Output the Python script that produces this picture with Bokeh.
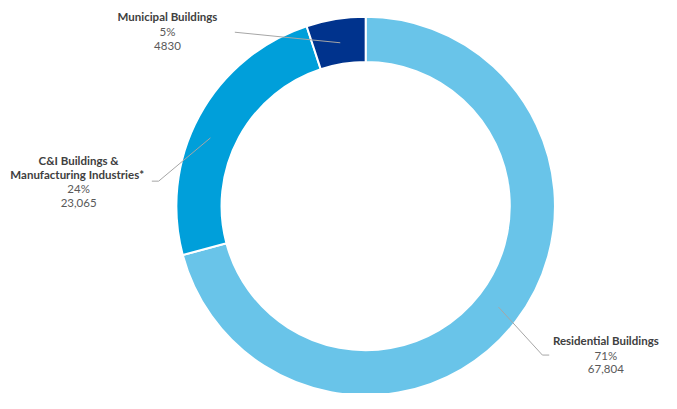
import math
from bokeh.plotting import figure
from bokeh.models import Range1d, ColumnDataSource
from bokeh.core.properties import value
from bokeh.embed import file_html
from bokeh.resources import INLINE

categories = ["Residential Buildings", "C&I Buildings & Manufacturing Industries*", "Municipal Buildings"]
values = [67804, 23065, 4830]
percent_labels = ["71%", "24%", "5%"]
value_labels = ["67,804", "23,065", "4830"]
colors = ["#69C4E9", "#009FDA", "#00338D"]

W, H = 677, 409
FW, FH = 661, 393
SY = FH / H

def Y(py):
    return H - py

p = figure(width=FW, height=FH, output_backend="svg", toolbar_location=None,
           x_range=Range1d(0, W), y_range=Range1d(0, H), min_border=0,
           outline_line_color=None)
p.axis.visible = False
p.grid.visible = False

total = sum(values)
starts, ends = [], []
cum = 0.0
for v in values:
    a0 = math.pi / 2 - 2 * math.pi * (cum + v) / total
    a1 = math.pi / 2 - 2 * math.pi * cum / total
    starts.append(a0)
    ends.append(a1)
    cum += v

src = ColumnDataSource(dict(start=starts, end=ends, color=colors, cat=categories))
cx, cy = 374, Y(214)
p.annular_wedge(x=cx, y=cy, inner_radius=150 * SY, outer_radius=197 * SY,
                inner_radius_units="screen", outer_radius_units="screen",
                start_angle="start", end_angle="end",
                fill_color="color", line_color="white", line_width=2, source=src)

# leader lines
lc = "#A6A6A6"
p.line(x=[240, 348], y=[Y(33), Y(44)], line_color=lc, line_width=1)
p.line(x=[155, 162, 215], y=[Y(188), Y(188), Y(143)], line_color=lc, line_width=1)
p.line(x=[510, 555, 562], y=[Y(319), Y(369), Y(369)], line_color=lc, line_width=1)

font = value("Lato")
bold_color = "#404040"
reg_color = "#595959"

title_lines = [["Residential Buildings"], ["C&I Buildings &", "Manufacturing  Industries*"], ["Municipal Buildings"]]
anchors = [(620, 354), (80, 166), (171, 17)]
lh = 15
for i in range(3):
    ax, ay = anchors[i]
    lines = title_lines[i]
    ys = [Y(ay + k * lh) for k in range(len(lines))]
    p.text(x=[ax] * len(lines), y=ys, text=lines, text_font=font, text_font_style="bold",
           text_font_size="11.5px", text_color=bold_color, text_align="center", text_baseline="middle")
    n = len(lines)
    p.text(x=[ax, ax], y=[Y(ay + n * lh), Y(ay + (n + 1) * lh)], text=[percent_labels[i], value_labels[i]],
           text_font=font, text_font_size="11.5px", text_color=reg_color,
           text_align="center", text_baseline="middle")

open("out.html", "w").write(file_html(p, INLINE))
